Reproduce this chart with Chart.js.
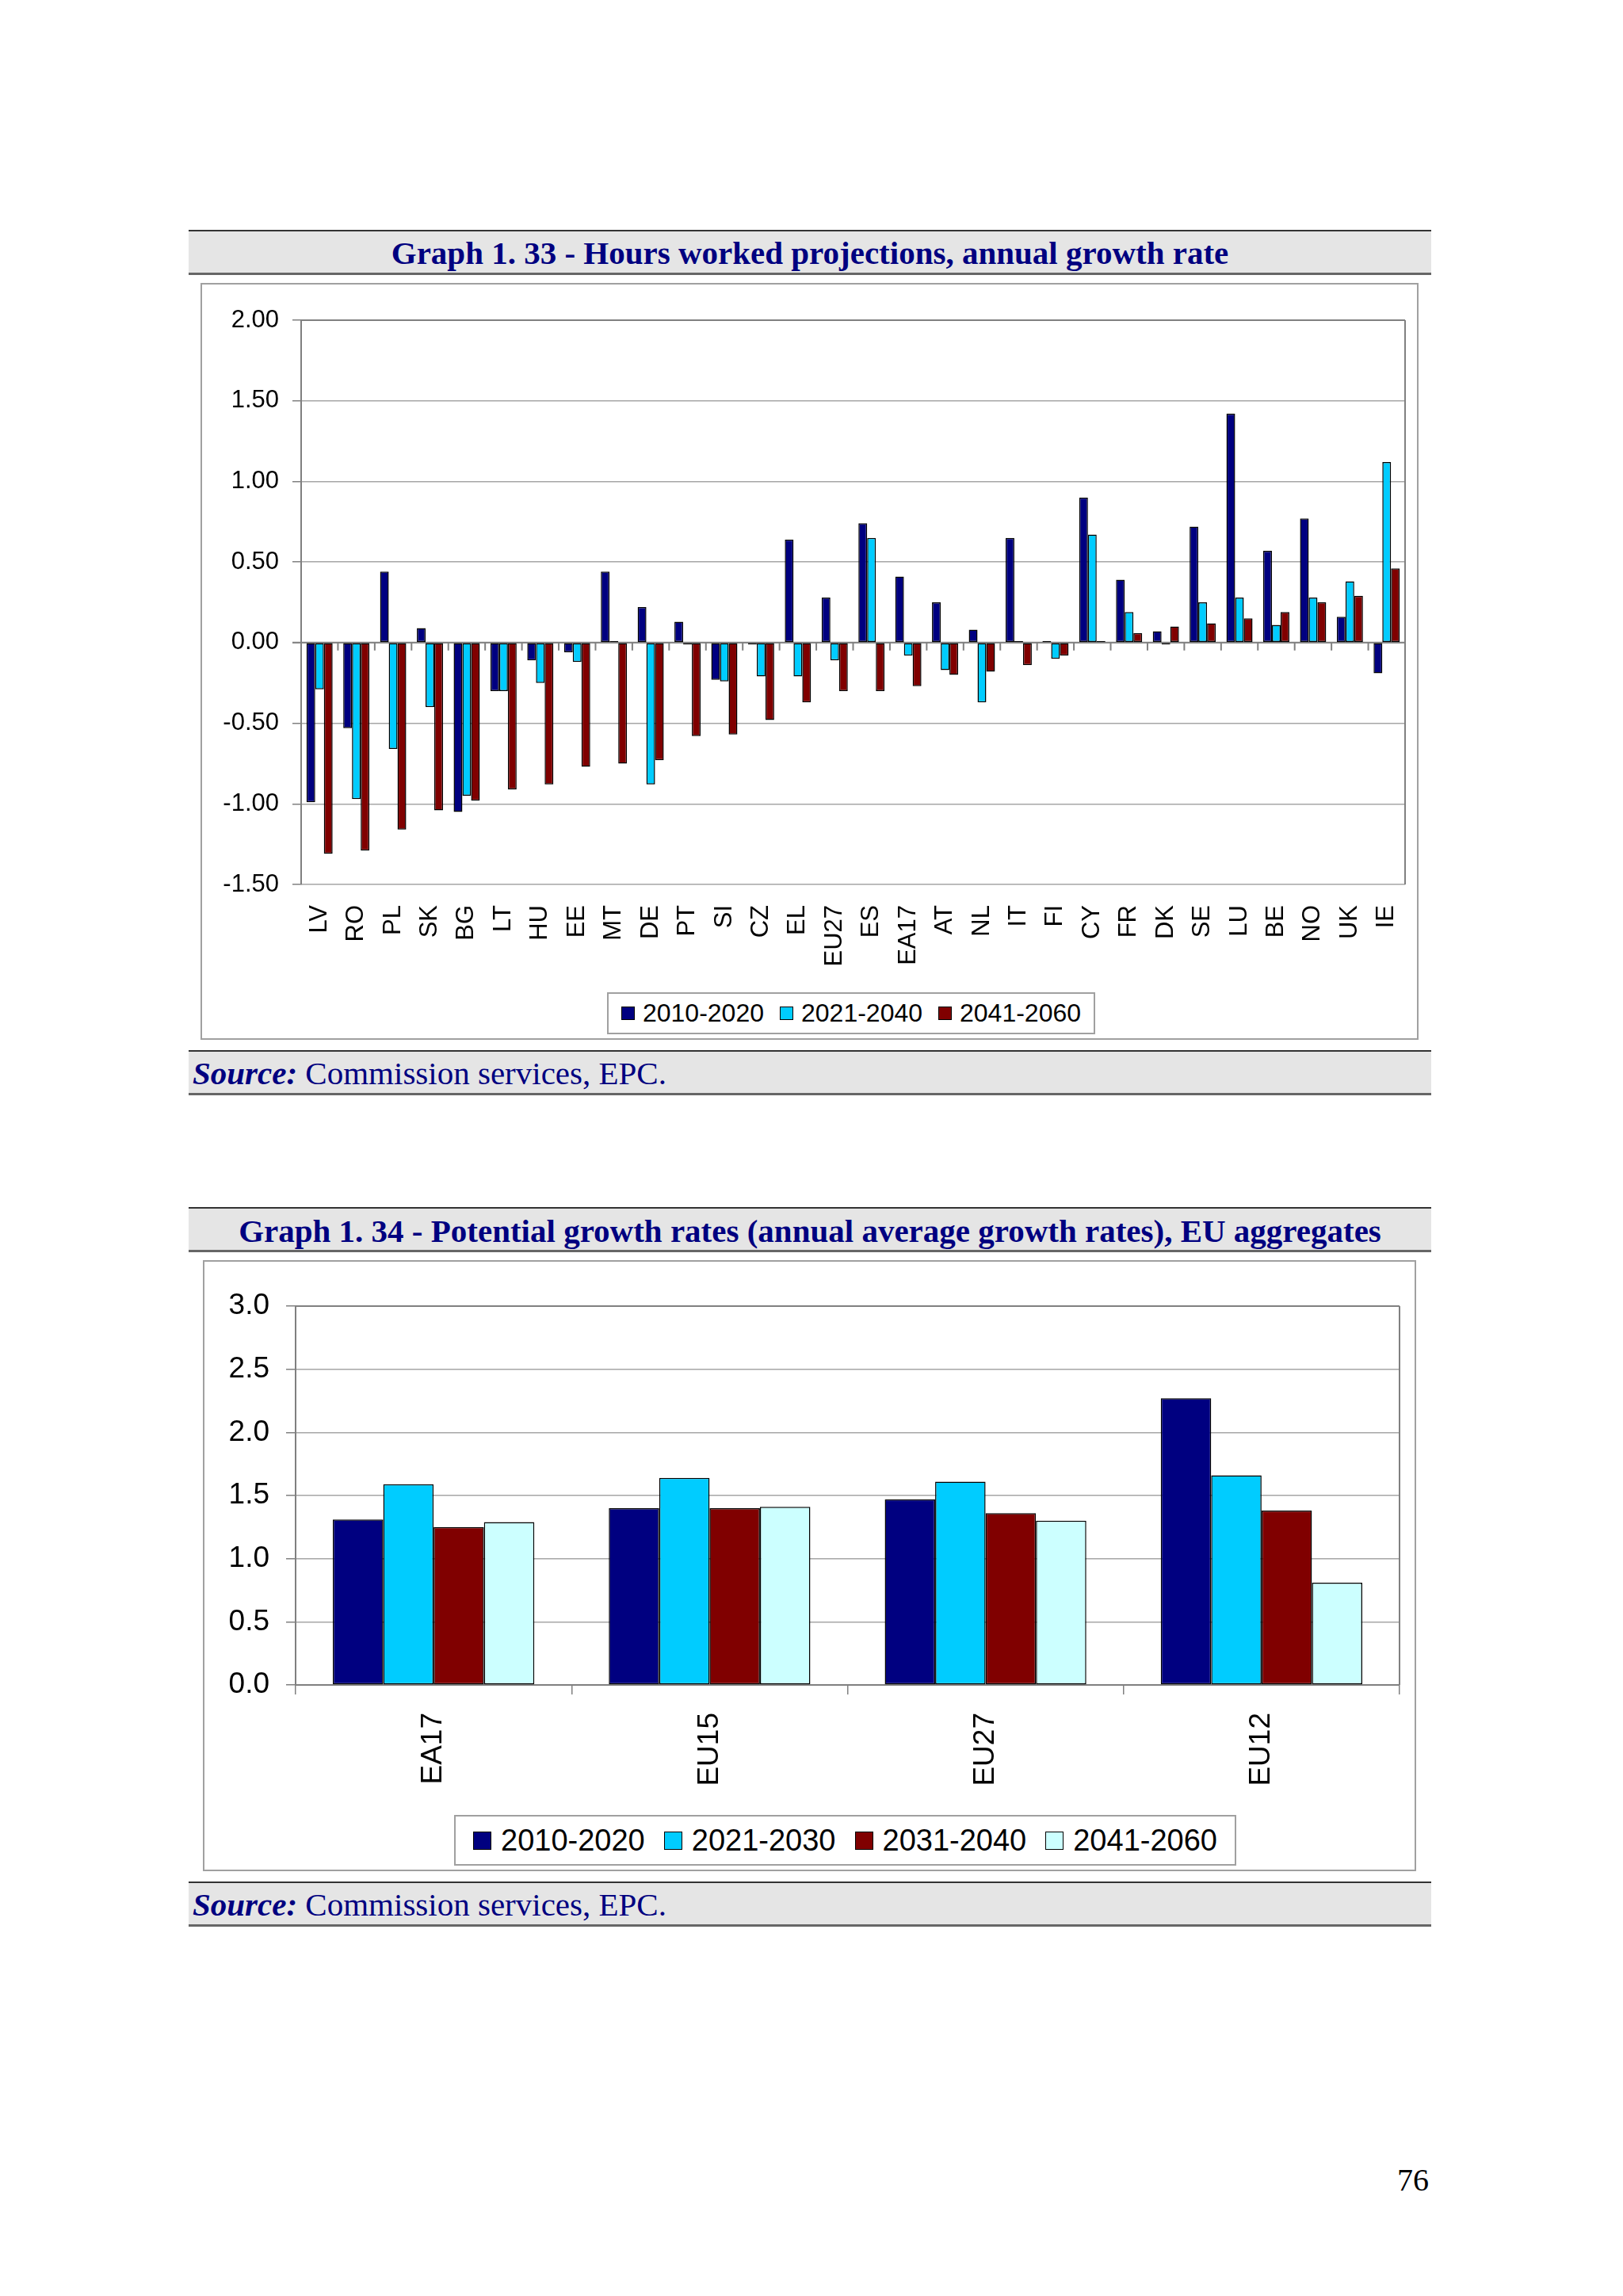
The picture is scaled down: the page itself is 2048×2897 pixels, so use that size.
<!DOCTYPE html>
<html>
<head>
<meta charset="utf-8">
<script src="https://cdn.jsdelivr.net/npm/chart.js@4"></script>
<style>
  body { margin:0; background:#fff; width:2048px; height:2897px; position:relative; }
  .band { position:absolute; left:238px; width:1568px; background:#e5e5e5;
          border-top:2px solid #333; border-bottom:3px solid #666; box-sizing:border-box; }
  .ttl { position:absolute; left:238px; width:1568px; text-align:center; font:bold 41px "Liberation Serif", serif;
         color:#000080; line-height:41px; white-space:nowrap; }
  .src { position:absolute; left:243px; font:41px "Liberation Serif", serif; color:#000080; line-height:41px; white-space:nowrap; }
  .frame { position:absolute; border:2px solid #a0a0a0; box-sizing:border-box; background:#fff; }
  canvas { position:absolute; }
  .legend { position:absolute; border:2px solid #a0a0a0; box-sizing:border-box; background:#fff;
            display:flex; align-items:center; justify-content:center; font-family:"Liberation Sans", Arial, sans-serif; color:#000; }
  .legend span.sw { display:inline-block; border:1.5px solid #000; box-sizing:border-box; }
  .legend .it { display:flex; align-items:center; }
  .pg { position:absolute; left:1763px; top:2731px; font:40px "Liberation Serif", serif; line-height:40px; }
</style>
</head>
<body>

<div class="band" style="top:290px;height:57px"></div>
<div class="ttl" style="top:299px">Graph 1. 33 - Hours worked projections, annual growth rate</div>
<div class="frame" style="left:253px;top:357px;width:1537px;height:955px"></div>
<canvas id="c1" width="1537" height="955" style="left:253px;top:357px"></canvas>
<div class="legend" id="lg1" style="left:766px;top:1252px;width:616px;height:53px;font-size:32px"></div>
<div class="band" style="top:1325px;height:57px"></div>
<div class="src" style="top:1334px"><b><i>Source:</i></b> Commission services, EPC.</div>

<div class="band" style="top:1523px;height:57px"></div>
<div class="ttl" style="top:1533px">Graph 1. 34 - Potential growth rates (annual average growth rates), EU aggregates</div>
<div class="frame" style="left:256px;top:1590px;width:1531px;height:771px"></div>
<canvas id="c2" width="1531" height="771" style="left:256px;top:1590px"></canvas>
<div class="legend" id="lg2" style="left:573px;top:2290px;width:987px;height:64px;font-size:38px"></div>
<div class="band" style="top:2374px;height:57px"></div>
<div class="src" style="top:2383px"><b><i>Source:</i></b> Commission services, EPC.</div>

<div class="pg">76</div>

<script>
// Graph 1.33 data
const countries = ["LV","RO","PL","SK","BG","LT","HU","EE","MT","DE","PT","SI","CZ","EL","EU27","ES","EA17","AT","NL","IT","FI","CY","FR","DK","SE","LU","BE","NO","UK","IE"];
const hours2010_2020 = [-0.99,-0.53,0.44,0.09,-1.05,-0.30,-0.11,-0.06,0.44,0.22,0.13,-0.23,-0.01,0.64,0.28,0.74,0.41,0.25,0.08,0.65,0.01,0.90,0.39,0.07,0.72,1.42,0.57,0.77,0.16,-0.19];
const hours2021_2040 = [-0.29,-0.97,-0.66,-0.40,-0.95,-0.30,-0.25,-0.12,0.01,-0.88,-0.01,-0.24,-0.21,-0.21,-0.11,0.65,-0.08,-0.17,-0.37,0.01,-0.10,0.67,0.19,-0.01,0.25,0.28,0.11,0.28,0.38,1.12];
const hours2041_2060 = [-1.31,-1.29,-1.16,-1.04,-0.98,-0.91,-0.88,-0.77,-0.75,-0.73,-0.58,-0.57,-0.48,-0.37,-0.30,-0.30,-0.27,-0.20,-0.18,-0.14,-0.08,0.01,0.06,0.10,0.12,0.15,0.19,0.25,0.29,0.46];
const periods1 = ["2010-2020","2021-2040","2041-2060"];

// Graph 1.34 data
const aggregates = ["EA17","EU15","EU27","EU12"];
const pot2010_2020 = [1.31,1.40,1.47,2.27];
const pot2021_2030 = [1.59,1.64,1.61,1.66];
const pot2031_2040 = [1.25,1.40,1.36,1.38];
const pot2041_2060 = [1.29,1.41,1.30,0.81];
const periods2 = ["2010-2020","2021-2030","2031-2040","2041-2060"];

const NAVY="#000080", CYAN="#00CCFF", DRED="#800000", LCYAN="#CCFFFF";
const GRID="#a6a6a6", AXIS="#808080";
const FONT="'Liberation Sans', Arial, sans-serif";

function buildLegend(id, labels, colors, sw, gap, tgap){
    let el=document.getElementById(id);
    el.style.gap=gap+"px";
    labels.forEach((l,i)=>{
        el.innerHTML += `<div class="it"><span class="sw" style="width:${sw}px;height:${sw}px;background:${colors[i]};margin-right:${tgap}px"></span>${l}</div>`;
    });
}
buildLegend("lg1", periods1, [NAVY,CYAN,DRED], 17, 20, 10);
buildLegend("lg2", periods2, [NAVY,CYAN,DRED,LCYAN], 23, 24, 12);

// right border of plot, zero line and category ticks
const plotFrame = {
    id:"plotFrame",
    beforeDatasetsDraw(chart, args, opts){
        const {ctx, chartArea:a, scales} = chart;
        ctx.save();
        ctx.strokeStyle=AXIS; ctx.lineWidth=2;
        ctx.beginPath();
        ctx.moveTo(a.right, a.top); ctx.lineTo(a.right, a.bottom);
        ctx.moveTo(a.left, a.top); ctx.lineTo(a.right, a.top);
        ctx.stroke();
        if(opts.zeroTicks){
            const y0 = scales.y.getPixelForValue(0);
            ctx.beginPath();
            ctx.moveTo(a.left-11, y0); ctx.lineTo(a.right, y0);
            for(let i=0;i<=chart.data.labels.length;i++){
                const x = scales.x.getPixelForValue(i-0.5);
                ctx.moveTo(x, y0); ctx.lineTo(x, y0+10);
            }
            ctx.stroke();
        }
        ctx.restore();
    }
};

const ds = (label, data, color, bw) => ({label, data, backgroundColor:color, borderColor:"#000", borderWidth:bw, borderSkipped:false});

new Chart(document.getElementById("c1"),{
    type:"bar",
    data:{
        labels:countries,
        datasets:[
            ds(periods1[0], hours2010_2020, NAVY, 1.5),
            ds(periods1[1], hours2021_2040, CYAN, 1.5),
            ds(periods1[2], hours2041_2060, DRED, 1.5)
        ]
    },
    options:{
        responsive:false, animation:false, devicePixelRatio:1,
        categoryPercentage:0.71, barPercentage:1.0,
        layout:{padding:{left:0, top:47, right:17, bottom:0}},
        plugins:{legend:{display:false}, tooltip:{enabled:false}, plotFrame:{zeroTicks:true}},
        scales:{
            x:{
                grid:{display:false, drawTicks:false},
                border:{display:false},
                ticks:{color:"#000", font:{family:FONT, size:31}, minRotation:90, maxRotation:90, padding:26, autoSkip:false},
                afterFit(s){ s.height=196; s.paddingLeft=0; s.paddingRight=0; }
            },
            y:{
                min:-1.5, max:2,
                grid:{color:GRID, lineWidth:1.5, tickLength:11, tickColor:AXIS},
                border:{color:AXIS, width:2},
                ticks:{stepSize:0.5, color:"#000", font:{family:FONT, size:31}, padding:17, callback:v=>v.toFixed(2)},
                afterFit(s){ s.width=127; }
            }
        }
    },
    plugins:[plotFrame]
});

new Chart(document.getElementById("c2"),{
    type:"bar",
    data:{
        labels:aggregates,
        datasets:[
            ds(periods2[0], pot2010_2020, NAVY, 1.5),
            ds(periods2[1], pot2021_2030, CYAN, 1.5),
            ds(periods2[2], pot2031_2040, DRED, 1.5),
            ds(periods2[3], pot2041_2060, LCYAN, 1.5)
        ]
    },
    options:{
        responsive:false, animation:false, devicePixelRatio:1,
        categoryPercentage:0.73, barPercentage:1.0,
        layout:{padding:{left:0, top:58, right:21, bottom:0}},
        plugins:{legend:{display:false}, tooltip:{enabled:false}, plotFrame:{zeroTicks:false}},
        scales:{
            x:{
                grid:{display:true, drawOnChartArea:false, offset:true, tickLength:12, color:AXIS, lineWidth:1.5},
                border:{color:AXIS, width:2},
                ticks:{color:"#000", font:{family:FONT, size:37}, minRotation:90, maxRotation:90, padding:23},
                afterFit(s){ s.height=235; s.paddingLeft=0; s.paddingRight=0; }
            },
            y:{
                min:0, max:3,
                grid:{color:GRID, lineWidth:1.5, tickLength:12, tickColor:AXIS},
                border:{color:AXIS, width:2},
                ticks:{stepSize:0.5, color:"#000", font:{family:FONT, size:37}, padding:21, callback:v=>v.toFixed(1)},
                afterFit(s){ s.width=117; }
            }
        }
    },
    plugins:[plotFrame]
});
</script>
</body>
</html>
